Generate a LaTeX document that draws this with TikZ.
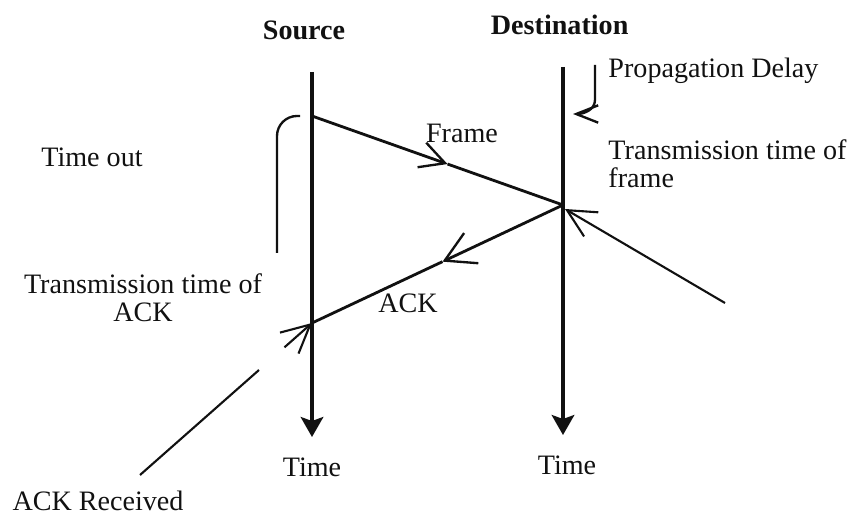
\documentclass[tikz,border=0pt]{standalone}
\usepackage{fontspec}
\setmainfont{Liberation Serif}
\usepackage{tikz}
\usetikzlibrary{arrows.meta,positioning,calc}
\definecolor{ink}{HTML}{111111}
\tikzset{
  >=Latex,
  every node/.style={font=\fontsize{12}{12}\selectfont,text=ink,inner sep=0pt},
  title/.style={font=\fontsize{12}{12}\selectfont\bfseries},
  timeline/.style={-{Stealth[length=3mm,width=3.4mm,inset=0.6mm]},line width=1.3pt,draw=ink},
  msg/.style={line width=1.2pt,draw=ink},
  framebarb/.style={msg,-{Straight Barb[length=3.7mm,width=3.9mm,line width=1pt]}},
  ackbarb/.style={msg,-{Straight Barb[length=4.4mm,width=5mm,line width=1pt]}},
  bracket/.style={line width=1pt,draw=ink},
  pointer/.style={line width=0.9pt,draw=ink,-{Straight Barb[length=4.2mm,width=4.2mm]}},
  twoline/.style={align=center}
}
\begin{document}
\begin{tikzpicture}[x=0.015cm,y=-0.015cm]
  \useasboundingbox (0,0) rectangle (849,514);

  % time lines
  \coordinate (srctop) at (312,72);
  \coordinate (srcend) at (312,437);
  \coordinate (dsttop) at (563,67);
  \coordinate (dstend) at (563,435);
  \draw[timeline] (srctop) -- (srcend);
  \draw[timeline] (dsttop) -- (dstend);

  \node[title,above=4.8mm of srctop,xshift=-1.2mm] (src) {Source};
  \node[title,above=4.8mm of dsttop,xshift=-0.5mm] (dst) {Destination};
  \node[below=3mm of srcend] (srctime) {Time};
  \node[below=3mm of dstend,xshift=0.6mm] (dsttime) {Time};

  % frame and ack
  \coordinate (s1) at (312,116);
  \coordinate (d1) at (563,205);
  \coordinate (s2) at (312,323);
  \coordinate (fmid) at ($(s1)!0.54!(d1)$);
  \coordinate (amid) at ($(d1)!0.48!(s2)$);
  \draw[framebarb] (s1) -- (fmid);
  \draw[msg] (fmid) -- (d1);
  \draw[ackbarb] (d1) -- (amid);
  \draw[msg] (amid) -- (s2);
  \node (framelbl) at (462,133) {Frame};
  \node (acklbl) at (408,303) {ACK};

  % propagation delay
  \draw[bracket,-{Straight Barb[length=3.3mm,width=2.6mm]}] (595,65) -- (595,100) to[out=-90,in=0] (573,114);
  \node[anchor=base west] (propdelay) at (608,78) {Propagation Delay};

  % time out
  \draw[bracket,rounded corners=3mm] (277,253) |- (300,116);
  \node (timeout) at (92,157) {Time out};

  % transmission times
  \node[align=left,anchor=west] (txframe) at (608,164) {Transmission time of\\frame};
  \coordinate (arrfrom) at (725,303);
  \draw[pointer] (arrfrom) -- (565,209);
  \node[twoline] (txack) at (143,298) {Transmission time of\\ACK};

  % ack received
  \node (ackrcv) at (98,501) {ACK Received};
  \coordinate (ackfoot) at (140,475);
  \coordinate (ackgap) at (259,370);
  \draw[line width=0.9pt,draw=ink] (ackfoot) -- (ackgap);
  \draw[pointer] ($(s2)!0.16!(ackfoot)$) -- (s2);
\end{tikzpicture}
\end{document}
